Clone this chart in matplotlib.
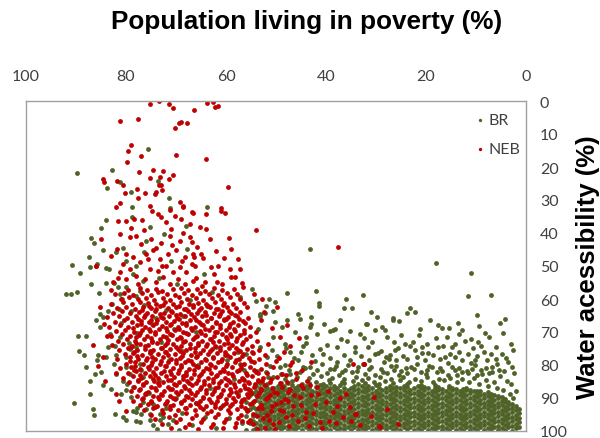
import matplotlib
matplotlib.use("Agg")
import matplotlib.pyplot as plt

# Each point: (population living in poverty %, water accessibility %)

# ---------------- BR (Brazil) ----------------
br_sparse = [
    (89.8, 21.7), (82.8, 20.8), (75.7, 14.6), (81.3, 24.5), (73.7, 24.2), (83.9, 26.5), (79.1, 27.7),
    (71.5, 29.5), (78.9, 32.2), (71.3, 32.4), (63.8, 32.0), (43.3, 44.7), (18.0, 49.2), (11.0, 52.0),
    (32.6, 58.8), (11.6, 59.2), (7.0, 58.8), (23.3, 62.6), (23.8, 64.1), (22.2, 63.8), (26.6, 65.9),
    (36.0, 60.1), (41.4, 61.3), (41.4, 62.0), (42.0, 57.7), (47.9, 58.3), (54.9, 57.1), (36.4, 62.8),
    (34.8, 62.8), (45.6, 64.6), (43.1, 65.5), (57.2, 59.3), (54.0, 60.5), (51.4, 59.9), (50.2, 60.8),
    (52.0, 62.1), (50.6, 63.5), (53.2, 64.5), (52.3, 64.1), (43.0, 67.5), (31.9, 67.6), (26.7, 66.3),
    (25.5, 66.7), (17.7, 68.0), (16.9, 68.7), (15.4, 68.8), (12.8, 69.5), (7.4, 71.5), (4.6, 70.4),
    (38.6, 69.3), (38.2, 69.0),
]

br_left = [
    (84.0, 36.0), (85.1, 38.4), (87.0, 41.4), (86.5, 43.1), (84.7, 45.0), (87.5, 47.4), (90.9, 49.8),
    (89.3, 52.0), (87.3, 50.4), (85.8, 49.5), (84.0, 50.7), (83.5, 50.9), (87.1, 55.4), (84.0, 55.1),
    (85.5, 58.3), (92.0, 58.5), (91.0, 58.5), (89.8, 58.0), (82.0, 45.8), (80.7, 44.6), (80.0, 48.4),
    (82.5, 55.2), (81.7, 56.4), (81.2, 58.5), (82.9, 61.5), (81.5, 63.0), (85.3, 64.5), (83.7, 63.5),
    (78.7, 52.4), (78.8, 35.2), (75.3, 38.3), (76.0, 42.3), (78.0, 49.9), (76.7, 54.4), (80.0, 56.5),
    (77.3, 57.5), (89.7, 71.3), (88.1, 71.3), (89.5, 75.9), (88.4, 76.9), (88.1, 80.7), (87.3, 84.7),
    (87.3, 88.7), (90.5, 91.6), (86.6, 93.2), (86.5, 95.1), (86.2, 82.7), (85.0, 82.0), (85.7, 77.1),
    (85.9, 78.6), (86.0, 66.5), (85.2, 68.5), (84.7, 65.5), (83.7, 74.6), (82.3, 74.1), (82.0, 77.1),
    (84.0, 77.6), (82.5, 79.7), (80.0, 77.6), (79.3, 75.1), (83.3, 70.6), (81.3, 71.6), (84.7, 86.2),
    (83.0, 87.2), (82.3, 94.8), (80.7, 95.8), (78.7, 93.8), (77.8, 93.1), (77.0, 94.8), (80.0, 87.7),
    (80.7, 84.7), (81.0, 88.7), (79.3, 82.7), (78.7, 86.7), (76.7, 83.7), (76.0, 88.7), (74.7, 91.8),
    (73.3, 94.8), (72.7, 95.8), (75.2, 96.8), (71.7, 97.8), (77.3, 79.7), (78.0, 74.6), (80.0, 80.7),
    (82.0, 82.7), (79.0, 89.8), (76.7, 91.3), (78.0, 94.3), (75.3, 94.8), (73.3, 96.8), (77.3, 97.3),
    (80.0, 96.8),
]

br_core_mix = [
    (76.4, 61.9), (72.1, 63.3), (68.7, 65.0), (74.9, 67.7), (63.8, 62.1), (70.5, 69.0), (77.8, 70.3),
    (66.1, 70.1), (73.0, 72.9), (60.4, 66.2), (79.4, 73.3), (68.9, 75.7), (75.0, 76.0), (62.1, 74.5),
    (71.4, 78.6), (77.0, 81.6), (65.6, 80.0), (57.6, 76.2), (73.4, 84.4), (68.2, 83.0), (79.9, 85.8),
    (63.2, 86.9), (75.5, 88.6), (70.0, 89.9), (58.4, 84.1), (66.0, 91.4), (72.1, 92.9), (61.0, 92.6),
    (76.0, 93.2), (68.8, 94.6), (64.3, 95.9), (70.7, 96.7), (59.4, 96.1), (74.6, 98.3), (66.8, 98.1),
    (62.0, 99.1), (56.8, 97.7), (73.8, 99.5), (69.5, 99.6), (78.1, 97.1), (55.7, 93.6), (57.6, 88.7),
    (54.2, 86.2), (56.4, 81.4), (59.8, 78.4), (74.0, 65.9), (81.0, 67.3), (79.0, 63.7), (80.9, 60.0),
    (78.1, 59.0), (67.3, 60.4), (62.9, 57.8), (69.8, 55.6), (73.4, 53.6), (64.5, 52.3), (71.0, 48.6),
    (67.8, 44.9), (76.5, 45.8), (72.5, 40.3), (68.0, 37.9),
]

br_transition = [
    (53.3, 65.0), (50.3, 67.0), (47.9, 66.5), (45.3, 66.0), (43.3, 68.5), (50.6, 71.6), (48.3, 73.6),
    (53.3, 74.6), (56.0, 76.6), (51.9, 77.6), (47.3, 76.1), (45.6, 78.6), (41.9, 70.6), (39.2, 69.6),
    (37.9, 74.6), (35.9, 72.6), (40.6, 76.6), (35.2, 78.6), (43.3, 80.7), (49.3, 80.7), (53.9, 81.7),
    (57.3, 79.7), (50.9, 75.6), (53.6, 69.0), (44.6, 74.1), (39.2, 81.2), (36.9, 82.2), (47.3, 82.7),
    (51.6, 83.7),
]

br_mid = [
    (32.0, 67.5), (30.3, 69.3), (28.3, 69.3), (27.8, 71.6), (24.3, 73.6), (25.6, 74.9), (26.3, 75.6),
    (23.3, 74.1), (22.3, 75.6), (20.9, 74.6), (19.9, 73.6), (17.6, 74.6), (16.6, 74.1), (14.9, 74.6),
    (14.3, 73.6), (12.3, 72.6), (9.6, 73.1), (9.1, 74.1), (7.1, 76.6), (3.6, 79.1), (11.6, 76.6),
    (14.3, 77.6), (16.3, 77.6), (18.6, 77.1), (20.3, 78.6), (21.9, 77.6), (23.9, 78.1), (26.0, 78.6),
    (28.0, 77.6), (30.3, 76.6), (31.6, 74.6), (33.6, 80.7), (31.0, 80.7), (29.0, 81.2), (27.0, 80.2),
    (25.0, 81.7), (23.0, 80.7), (21.0, 82.2), (18.9, 80.7), (16.9, 81.7), (14.9, 80.7), (12.9, 82.2),
    (10.9, 81.2), (8.9, 82.7), (6.9, 80.7), (5.2, 83.2), (3.9, 84.7), (12.9, 78.6), (10.3, 78.6),
    (7.9, 78.6), (5.9, 79.7), (4.9, 76.6),
    (50.6, 83.6), (48.2, 84.1), (45.9, 83.5), (43.4, 84.0), (41.1, 83.4), (38.8, 83.9), (36.4, 84.2),
    (34.0, 83.6), (31.7, 84.0), (29.3, 83.5), (27.0, 84.1), (24.6, 83.7), (22.2, 84.2), (19.9, 83.6),
    (17.5, 84.1), (15.2, 83.8), (12.8, 84.3), (10.5, 83.9), (8.1, 84.4), (6.4, 85.2),
    (52.1, 82.1), (49.0, 82.6), (45.2, 82.0), (42.6, 82.7), (39.9, 82.3), (37.5, 82.9), (34.9, 82.0),
    (32.3, 82.6), (30.2, 83.0), (27.8, 82.4), (25.5, 82.9), (23.9, 82.5), (20.0, 82.8), (17.8, 82.1),
    (15.6, 82.9), (13.8, 83.1), (11.6, 82.4), (9.9, 83.0), (7.4, 82.5),
    (51.2, 80.2), (48.3, 79.9), (44.6, 80.5), (40.9, 79.8), (38.0, 80.4), (35.6, 80.1), (32.6, 79.6),
    (28.4, 79.2), (26.1, 80.4), (21.9, 79.8), (19.5, 80.3), (15.7, 79.5), (13.5, 80.9), (10.3, 80.0),
    (8.0, 81.0), (4.4, 81.8),
    (49.9, 77.3), (46.4, 77.9), (42.8, 77.1), (39.2, 78.0), (36.5, 76.9), (33.0, 77.3), (29.6, 76.4),
    (27.5, 78.3), (19.6, 76.3), (13.5, 76.1), (9.8, 77.4), (6.1, 78.2), (2.9, 80.6),
    (48.0, 74.9), (44.0, 73.2), (41.2, 75.3), (37.0, 72.1), (34.2, 74.4), (30.8, 73.1), (29.1, 75.8),
    (22.6, 72.9), (18.1, 71.9), (11.0, 72.2), (6.0, 74.4), (3.1, 73.6), (15.8, 71.6), (25.0, 70.8),
    (46.2, 70.0), (40.5, 67.5), (35.3, 69.8), (33.2, 70.5), (28.9, 68.4), (21.2, 69.2), (19.2, 66.5),
    (13.6, 67.2), (9.4, 68.1), (5.2, 67.3), (29.8, 65.4),
    (47.5, 81.4), (44.2, 81.0), (41.8, 81.6), (38.5, 81.1), (36.2, 81.4), (33.9, 81.9), (31.5, 81.3),
    (28.7, 82.0), (26.4, 81.5), (24.1, 81.0), (22.4, 81.3), (19.8, 81.6), (17.3, 80.9), (14.2, 81.5),
    (11.9, 81.9), (9.1, 81.5), (6.8, 82.0), (5.5, 81.4),
    (46.9, 84.9), (42.0, 85.2), (39.4, 84.6), (36.9, 85.3), (34.7, 84.8), (32.8, 84.5), (30.5, 85.1),
    (28.2, 84.7), (25.3, 84.4), (23.5, 85.0), (21.0, 84.9), (18.6, 85.0), (16.4, 84.6), (13.9, 85.1),
    (11.4, 85.3), (9.5, 85.7), (7.6, 86.3), (5.8, 86.9), (4.7, 87.7), (3.2, 88.8), (2.6, 90.1),
    (45.0, 76.0), (42.3, 78.8), (37.8, 79.2), (34.3, 76.2), (31.4, 78.4), (27.2, 76.9), (24.7, 77.3),
    (20.9, 76.5), (17.2, 78.3), (15.3, 76.6), (11.0, 79.4), (8.4, 76.1), (4.1, 78.0), (2.4, 82.5),
    (3.0, 85.9), (2.1, 87.8),
    (44.1, 71.5), (39.9, 73.8), (32.4, 71.9), (26.5, 73.0), (21.5, 71.0), (13.4, 70.6), (10.6, 74.9),
    (8.2, 70.2), (2.6, 75.4), (31.0, 63.9), (9.8, 64.9), (4.3, 66.0), (37.2, 66.3), (48.8, 68.6),
]

br_dense = [
    (53.2, 85.5), (51.9, 85.8), (49.1, 85.6), (47.6, 85.4), (44.8, 85.7), (43.5, 85.5),
    (40.7, 85.8), (39.2, 85.6), (36.4, 85.5), (33.6, 85.7), (32.3, 85.4), (29.5, 85.8), (26.7, 85.6),
    (23.9, 85.9), (21.1, 86.0), (18.3, 86.2), (15.5, 86.3),
    (54.0, 86.4), (52.5, 86.2), (49.7, 86.3), (48.4, 86.5), (46.9, 86.2), (45.6, 86.4),
    (44.1, 86.3), (41.3, 86.2), (40.0, 86.4), (38.5, 86.3), (37.2, 86.1), (34.4, 86.4), (32.9, 86.3),
    (31.6, 86.5), (30.1, 86.2), (27.3, 86.4), (26.0, 86.6), (24.5, 86.3), (21.7, 86.5), (20.4, 86.7),
    (17.6, 86.6), (14.8, 86.9), (12.0, 87.1),
    (53.2, 86.9), (51.9, 87.1), (50.4, 87.0), (49.1, 86.9), (47.6, 87.2),
    (46.3, 86.9), (44.8, 87.0), (43.5, 87.1), (42.0, 86.8), (40.7, 87.1), (39.2, 87.0), (37.9, 87.1),
    (36.4, 86.9), (35.1, 87.0), (33.6, 87.2), (32.3, 86.9), (30.8, 87.1), (29.5, 87.0), (28.0, 86.9),
    (26.7, 87.1), (25.2, 87.0), (23.9, 86.8), (22.4, 87.1), (21.1, 87.0), (19.6, 87.1), (18.3, 86.9),
    (16.8, 87.2), (15.5, 87.0), (14.0, 87.2), (12.7, 87.4), (11.2, 87.6), (9.9, 87.8),
    (55.3, 87.7), (54.0, 87.8), (52.5, 87.6), (51.2, 87.8), (49.7, 87.7), (48.4, 87.6), (46.9, 87.9),
    (45.6, 87.6), (44.1, 87.7), (42.8, 87.8), (41.3, 87.5), (40.0, 87.8), (38.5, 87.7), (37.2, 87.8),
    (35.7, 87.6), (34.4, 87.7), (32.9, 87.9), (31.6, 87.6), (30.1, 87.8), (28.8, 87.7), (27.3, 87.6),
    (26.0, 87.8), (24.5, 87.7), (23.2, 87.5), (21.7, 87.8), (20.4, 87.7), (18.9, 87.8), (17.6, 87.6),
    (16.1, 87.9), (14.8, 87.7), (13.3, 87.8), (12.0, 87.7), (10.5, 87.9), (9.2, 88.0), (7.7, 88.3),
    (54.7, 88.5), (53.2, 88.3), (51.9, 88.5), (50.4, 88.4), (49.1, 88.3), (47.6, 88.6),
    (46.3, 88.3), (44.8, 88.4), (43.5, 88.5), (42.0, 88.2), (40.7, 88.5), (39.2, 88.4), (37.9, 88.5),
    (36.4, 88.3), (35.1, 88.4), (33.6, 88.6), (32.3, 88.3), (30.8, 88.5), (29.5, 88.4), (28.0, 88.3),
    (26.7, 88.5), (25.2, 88.4), (23.9, 88.2), (22.4, 88.5), (21.1, 88.4), (19.6, 88.5), (18.3, 88.3),
    (16.8, 88.6), (15.5, 88.4), (14.0, 88.5), (12.7, 88.4), (11.2, 88.6), (9.9, 88.4), (8.4, 88.7),
    (7.1, 88.9), (5.6, 89.3),
    (55.3, 89.1), (54.0, 89.2), (52.5, 89.0), (51.2, 89.2), (49.7, 89.1), (48.4, 89.0), (46.9, 89.3),
    (45.6, 89.0), (44.1, 89.1), (42.8, 89.2), (41.3, 88.9), (40.0, 89.2), (38.5, 89.1), (37.2, 89.2),
    (35.7, 89.0), (34.4, 89.1), (32.9, 89.3), (31.6, 89.0), (30.1, 89.2), (28.8, 89.1), (27.3, 89.0),
    (26.0, 89.2), (24.5, 89.1), (23.2, 88.9), (21.7, 89.2), (20.4, 89.1), (18.9, 89.2), (17.6, 89.0),
    (16.1, 89.3), (14.8, 89.1), (13.3, 89.2), (12.0, 89.1), (10.5, 89.3), (9.2, 89.1), (7.7, 89.4),
    (6.4, 89.2), (4.9, 89.8),
    (53.2, 89.7), (51.9, 89.9), (50.4, 89.8), (49.1, 89.7), (47.6, 90.0),
    (46.3, 89.7), (44.8, 89.8), (43.5, 89.9), (42.0, 89.6), (40.7, 89.9), (39.2, 89.8), (37.9, 89.9),
    (36.4, 89.7), (35.1, 89.8), (33.6, 90.0), (32.3, 89.7), (30.8, 89.9), (29.5, 89.8), (28.0, 89.7),
    (26.7, 89.9), (25.2, 89.8), (23.9, 89.6), (22.4, 89.9), (21.1, 89.8), (19.6, 89.9), (18.3, 89.7),
    (16.8, 90.0), (15.5, 89.8), (14.0, 89.9), (12.7, 89.8), (11.2, 90.0), (9.9, 89.8), (8.4, 90.1),
    (7.1, 89.9), (5.6, 90.1), (4.3, 90.4),
    (54.0, 90.6), (52.5, 90.4), (51.2, 90.6), (49.7, 90.5), (48.4, 90.4), (46.9, 90.7),
    (45.6, 90.4), (44.1, 90.5), (42.8, 90.6), (41.3, 90.3), (40.0, 90.6), (38.5, 90.5), (37.2, 90.6),
    (35.7, 90.4), (34.4, 90.5), (32.9, 90.7), (31.6, 90.4), (30.1, 90.6), (28.8, 90.5), (27.3, 90.4),
    (26.0, 90.6), (24.5, 90.5), (23.2, 90.3), (21.7, 90.6), (20.4, 90.5), (18.9, 90.6), (17.6, 90.4),
    (16.1, 90.7), (14.8, 90.5), (13.3, 90.6), (12.0, 90.5), (10.5, 90.7), (9.2, 90.5), (7.7, 90.8),
    (6.4, 90.6), (4.9, 90.8), (3.6, 91.1),
    (56.0, 91.2), (54.7, 91.3), (53.2, 91.1), (51.9, 91.3), (50.4, 91.2), (49.1, 91.1), (47.6, 91.4),
    (46.3, 91.1), (44.8, 91.2), (43.5, 91.3), (42.0, 91.0), (40.7, 91.3), (39.2, 91.2), (37.9, 91.3),
    (36.4, 91.1), (35.1, 91.2), (33.6, 91.4), (32.3, 91.1), (30.8, 91.3), (29.5, 91.2), (28.0, 91.1),
    (26.7, 91.3), (25.2, 91.2), (23.9, 91.0), (22.4, 91.3), (21.1, 91.2), (19.6, 91.3), (18.3, 91.1),
    (16.8, 91.4), (15.5, 91.2), (14.0, 91.3), (12.7, 91.2), (11.2, 91.4), (9.9, 91.2), (8.4, 91.5),
    (7.1, 91.3), (5.6, 91.5), (4.3, 91.3), (2.8, 91.8),
    (52.5, 91.8), (51.2, 92.0), (49.7, 91.9), (48.4, 91.8), (46.9, 92.1),
    (45.6, 91.8), (44.1, 91.9), (42.8, 92.0), (41.3, 91.7), (40.0, 92.0), (38.5, 91.9), (37.2, 92.0),
    (35.7, 91.8), (34.4, 91.9), (32.9, 92.1), (31.6, 91.8), (30.1, 92.0), (28.8, 91.9), (27.3, 91.8),
    (26.0, 92.0), (24.5, 91.9), (23.2, 91.7), (21.7, 92.0), (20.4, 91.9), (18.9, 92.0), (17.6, 91.8),
    (16.1, 92.1), (14.8, 91.9), (13.3, 92.0), (12.0, 91.9), (10.5, 92.1), (9.2, 91.9), (7.7, 92.2),
    (6.4, 92.0), (4.9, 92.2), (3.6, 92.0), (2.1, 92.5),
    (54.7, 92.7), (53.2, 92.5), (51.9, 92.7), (50.4, 92.6), (49.1, 92.5), (47.6, 92.8),
    (46.3, 92.5), (44.8, 92.6), (43.5, 92.7), (42.0, 92.4), (40.7, 92.7), (39.2, 92.6), (37.9, 92.7),
    (36.4, 92.5), (35.1, 92.6), (33.6, 92.8), (32.3, 92.5), (30.8, 92.7), (29.5, 92.6), (28.0, 92.5),
    (26.7, 92.7), (25.2, 92.6), (23.9, 92.4), (22.4, 92.7), (21.1, 92.6), (19.6, 92.7), (18.3, 92.5),
    (16.8, 92.8), (15.5, 92.6), (14.0, 92.7), (12.7, 92.6), (11.2, 92.8), (9.9, 92.6), (8.4, 92.7),
    (7.1, 92.5), (5.6, 92.8), (4.3, 92.6), (2.8, 92.9), (1.5, 93.4),
    (55.3, 93.3), (54.0, 93.4), (52.5, 93.2), (51.2, 93.4), (49.7, 93.3), (48.4, 93.2), (46.9, 93.5),
    (45.6, 93.2), (44.1, 93.3), (42.8, 93.4), (41.3, 93.1), (40.0, 93.4), (38.5, 93.3), (37.2, 93.4),
    (35.7, 93.2), (34.4, 93.3), (32.9, 93.5), (31.6, 93.2), (30.1, 93.4), (28.8, 93.3), (27.3, 93.2),
    (26.0, 93.4), (24.5, 93.3), (23.2, 93.1), (21.7, 93.4), (20.4, 93.3), (18.9, 93.4), (17.6, 93.2),
    (16.1, 93.5), (14.8, 93.3), (13.3, 93.4), (12.0, 93.3), (10.5, 93.5), (9.2, 93.3), (7.7, 93.4),
    (6.4, 93.2), (4.9, 93.5), (3.6, 93.3), (2.1, 93.6),
    (53.2, 93.9), (51.9, 94.1), (50.4, 94.0), (49.1, 93.9), (47.6, 94.2),
    (46.3, 93.9), (44.8, 94.0), (43.5, 94.1), (42.0, 93.8), (40.7, 94.1), (39.2, 94.0), (37.9, 94.1),
    (36.4, 93.9), (35.1, 94.0), (33.6, 94.2), (32.3, 93.9), (30.8, 94.1), (29.5, 94.0), (28.0, 93.9),
    (26.7, 94.1), (25.2, 94.0), (23.9, 93.8), (22.4, 94.1), (21.1, 94.0), (19.6, 94.1), (18.3, 93.9),
    (16.8, 94.2), (15.5, 94.0), (14.0, 94.1), (12.7, 94.0), (11.2, 94.2), (9.9, 94.0), (8.4, 94.1),
    (7.1, 93.9), (5.6, 94.2), (4.3, 94.0), (2.8, 94.3), (1.5, 94.6),
    (54.0, 94.8), (52.5, 94.6), (51.2, 94.8), (49.7, 94.7), (48.4, 94.6), (46.9, 94.9),
    (45.6, 94.6), (44.1, 94.7), (42.8, 94.8), (41.3, 94.5), (40.0, 94.8), (38.5, 94.7), (37.2, 94.8),
    (35.7, 94.6), (34.4, 94.7), (32.9, 94.9), (31.6, 94.6), (30.1, 94.8), (28.8, 94.7), (27.3, 94.6),
    (26.0, 94.8), (24.5, 94.7), (23.2, 94.5), (21.7, 94.8), (20.4, 94.7), (18.9, 94.8), (17.6, 94.6),
    (16.1, 94.9), (14.8, 94.7), (13.3, 94.8), (12.0, 94.7), (10.5, 94.9), (9.2, 94.7), (7.7, 94.8),
    (6.4, 94.6), (4.9, 94.9), (3.6, 94.7), (2.1, 95.0),
    (56.0, 95.4), (54.7, 95.5), (53.2, 95.3), (51.9, 95.5), (50.4, 95.4), (49.1, 95.3), (47.6, 95.6),
    (46.3, 95.3), (44.8, 95.4), (43.5, 95.5), (42.0, 95.2), (40.7, 95.5), (39.2, 95.4), (37.9, 95.5),
    (36.4, 95.3), (35.1, 95.4), (33.6, 95.6), (32.3, 95.3), (30.8, 95.5), (29.5, 95.4), (28.0, 95.3),
    (26.7, 95.5), (25.2, 95.4), (23.9, 95.2), (22.4, 95.5), (21.1, 95.4), (19.6, 95.5), (18.3, 95.3),
    (16.8, 95.6), (15.5, 95.4), (14.0, 95.5), (12.7, 95.4), (11.2, 95.6), (9.9, 95.4), (8.4, 95.5),
    (7.1, 95.3), (5.6, 95.6), (4.3, 95.4), (2.8, 95.7), (1.5, 96.0),
    (52.5, 96.0), (51.2, 96.2), (49.7, 96.1), (48.4, 96.0), (46.9, 96.3),
    (45.6, 96.0), (44.1, 96.1), (42.8, 96.2), (41.3, 95.9), (40.0, 96.2), (38.5, 96.1), (37.2, 96.2),
    (35.7, 96.0), (34.4, 96.1), (32.9, 96.3), (31.6, 96.0), (30.1, 96.2), (28.8, 96.1), (27.3, 96.0),
    (26.0, 96.2), (24.5, 96.1), (23.2, 95.9), (21.7, 96.2), (20.4, 96.1), (18.9, 96.2), (17.6, 96.0),
    (16.1, 96.3), (14.8, 96.1), (13.3, 96.2), (12.0, 96.1), (10.5, 96.3), (9.2, 96.1), (7.7, 96.2),
    (6.4, 96.0), (4.9, 96.3), (3.6, 96.1), (2.1, 96.4),
    (54.7, 96.9), (53.2, 96.7), (51.9, 96.9), (50.4, 96.8), (49.1, 96.7), (47.6, 97.0),
    (46.3, 96.7), (44.8, 96.8), (43.5, 96.9), (42.0, 96.6), (40.7, 96.9), (39.2, 96.8), (37.9, 96.9),
    (36.4, 96.7), (35.1, 96.8), (33.6, 97.0), (32.3, 96.7), (30.8, 96.9), (29.5, 96.8), (28.0, 96.7),
    (26.7, 96.9), (25.2, 96.8), (23.9, 96.6), (22.4, 96.9), (21.1, 96.8), (19.6, 96.9), (18.3, 96.7),
    (16.8, 97.0), (15.5, 96.8), (14.0, 96.9), (12.7, 96.8), (11.2, 97.0), (9.9, 96.8), (8.4, 96.9),
    (7.1, 96.7), (5.6, 97.0), (4.3, 96.8), (2.8, 97.1), (1.5, 97.4),
    (55.3, 97.5), (54.0, 97.6), (52.5, 97.4), (51.2, 97.6), (49.7, 97.5), (48.4, 97.4), (46.9, 97.7),
    (45.6, 97.4), (44.1, 97.5), (42.8, 97.6), (41.3, 97.3), (40.0, 97.6), (38.5, 97.5), (37.2, 97.6),
    (35.7, 97.4), (34.4, 97.5), (32.9, 97.7), (31.6, 97.4), (30.1, 97.6), (28.8, 97.5), (27.3, 97.4),
    (26.0, 97.6), (24.5, 97.5), (23.2, 97.3), (21.7, 97.6), (20.4, 97.5), (18.9, 97.6), (17.6, 97.4),
    (16.1, 97.7), (14.8, 97.5), (13.3, 97.6), (12.0, 97.5), (10.5, 97.7), (9.2, 97.5), (7.7, 97.6),
    (6.4, 97.4), (4.9, 97.7), (3.6, 97.5), (2.1, 97.8),
    (53.2, 98.1), (51.9, 98.3), (50.4, 98.2), (49.1, 98.1), (47.6, 98.4),
    (46.3, 98.1), (44.8, 98.2), (43.5, 98.3), (42.0, 98.0), (40.7, 98.3), (39.2, 98.2), (37.9, 98.3),
    (36.4, 98.1), (35.1, 98.2), (33.6, 98.4), (32.3, 98.1), (30.8, 98.3), (29.5, 98.2), (28.0, 98.1),
    (26.7, 98.3), (25.2, 98.2), (23.9, 98.0), (22.4, 98.3), (21.1, 98.2), (19.6, 98.3), (18.3, 98.1),
    (16.8, 98.4), (15.5, 98.2), (14.0, 98.3), (12.7, 98.2), (11.2, 98.4), (9.9, 98.2), (8.4, 98.3),
    (7.1, 98.1), (5.6, 98.4), (4.3, 98.2), (2.8, 98.5), (1.5, 98.8),
    (54.0, 99.0), (52.5, 98.8), (51.2, 99.0), (49.7, 98.9), (48.4, 98.8), (46.9, 99.1),
    (45.6, 98.8), (44.1, 98.9), (42.8, 99.0), (41.3, 98.7), (40.0, 99.0), (38.5, 98.9), (37.2, 99.0),
    (35.7, 98.8), (34.4, 98.9), (32.9, 99.1), (31.6, 98.8), (30.1, 99.0), (28.8, 98.9), (27.3, 98.8),
    (26.0, 99.0), (24.5, 98.9), (23.2, 98.7), (21.7, 99.0), (20.4, 98.9), (18.9, 99.0), (17.6, 98.8),
    (16.1, 99.1), (14.8, 98.9), (13.3, 99.0), (12.0, 98.9), (10.5, 99.1), (9.2, 98.9), (7.7, 99.0),
    (6.4, 98.8), (4.9, 99.1), (3.6, 98.9), (2.1, 99.2),
    (56.0, 99.6), (54.7, 99.7), (53.2, 99.5), (51.9, 99.7), (50.4, 99.6), (49.1, 99.5), (47.6, 99.8),
    (46.3, 99.5), (44.8, 99.6), (43.5, 99.7), (42.0, 99.4), (40.7, 99.7), (39.2, 99.6), (37.9, 99.7),
    (36.4, 99.5), (35.1, 99.6), (33.6, 99.8), (32.3, 99.5), (30.8, 99.7), (29.5, 99.6), (28.0, 99.5),
    (26.7, 99.7), (25.2, 99.6), (23.9, 99.4), (22.4, 99.7), (21.1, 99.6), (19.6, 99.7), (18.3, 99.5),
    (16.8, 99.8), (15.5, 99.6), (14.0, 99.7), (12.7, 99.6), (11.2, 99.8), (9.9, 99.6), (8.4, 99.7),
    (7.1, 99.5), (5.6, 99.8), (4.3, 99.6), (2.8, 99.9),
]

# ---------------- NEB (Northeast Brazil) ----------------
neb_top = [
    (75.3, 0.9), (73.5, 0.0), (71.5, 0.9), (70.7, 2.1), (66.5, 2.7), (63.8, 0.6), (62.6, 0.2),
    (62.2, 1.9), (61.7, 1.5), (81.2, 6.2), (77.7, 5.6), (69.5, 6.8), (69.0, 6.5), (67.8, 6.8),
    (70.3, 8.1), (79.1, 13.3), (79.7, 15.3), (77.0, 16.8), (70.0, 16.5), (64.1, 17.7), (79.9, 18.6),
    (77.5, 21.4), (74.7, 20.8), (72.7, 21.1), (70.7, 22.4), (75.3, 23.3), (73.2, 23.0), (71.5, 23.6),
    (84.7, 23.6), (84.5, 24.6), (81.9, 24.1), (80.6, 25.6), (73.5, 25.5), (73.1, 25.6), (72.9, 27.0),
    (74.0, 27.7), (74.3, 28.1), (80.3, 28.0), (77.9, 26.8), (76.3, 28.0), (77.7, 29.5), (69.2, 30.7),
    (82.0, 32.0), (81.3, 30.8), (75.2, 31.9), (68.7, 31.9), (59.7, 26.2), (61.1, 32.5), (37.7, 44.1),
]

neb_upper = [
    (74.8, 33.4), (71.2, 33.0), (68.7, 32.2), (66.9, 33.7), (81.7, 36.5), (80.0, 36.3), (78.5, 35.7),
    (76.5, 39.1), (73.7, 34.2), (73.0, 35.2), (72.0, 36.8), (70.3, 34.7), (69.0, 35.7), (67.3, 37.3),
    (81.3, 40.3), (79.3, 41.3), (78.0, 40.8), (77.0, 43.3), (75.0, 41.8), (73.0, 43.1), (71.3, 40.8),
    (69.3, 42.3), (67.3, 41.3), (85.0, 41.8), (86.0, 49.9), (81.9, 44.8), (80.0, 46.4), (78.7, 47.4),
    (80.7, 49.4), (77.3, 48.9), (76.0, 46.4), (74.7, 45.3), (73.3, 47.9), (71.7, 46.4), (70.0, 45.3),
    (68.3, 47.4), (66.7, 46.4), (75.3, 50.9), (73.7, 51.4), (72.0, 49.9), (70.7, 51.9), (69.3, 50.4),
    (68.0, 51.9), (66.3, 49.9), (78.0, 52.9), (76.3, 53.9), (80.0, 53.9), (81.3, 51.9), (82.7, 54.9),
    (74.0, 54.9), (72.7, 53.4), (71.3, 55.4), (69.7, 53.9), (68.3, 55.4), (66.7, 54.4),
    (66.6, 33.9), (64.1, 34.2), (61.1, 33.2), (60.2, 33.9), (65.2, 38.3), (64.1, 38.9), (54.1, 39.2),
    (59.4, 41.6), (59.0, 44.7), (66.8, 42.6), (65.8, 44.3), (65.0, 46.4), (64.6, 47.7), (66.4, 47.2),
    (60.4, 47.6), (57.7, 47.9), (66.8, 49.4), (63.0, 50.2), (61.7, 50.0), (59.3, 51.0), (57.3, 51.0),
    (59.0, 53.4), (58.3, 53.4), (64.2, 54.7), (61.9, 54.7), (60.8, 55.6), (56.8, 55.2), (56.6, 56.3),
    (66.0, 53.6), (83.0, 47.0), (79.0, 38.5), (76.8, 36.2), (71.0, 38.8), (68.6, 40.0), (74.0, 44.5),
    (70.8, 43.7), (63.2, 41.7), (62.0, 45.6), (68.9, 48.6), (72.9, 50.1), (75.6, 48.0), (79.2, 50.8),
    (77.6, 55.4), (81.6, 53.5), (62.4, 52.3), (64.8, 56.1),
]

neb_left = [
    (86.0, 50.1), (86.7, 73.9), (84.7, 77.6), (82.0, 82.5), (82.0, 88.7), (80.0, 93.8), (84.5, 67.6),
    (85.3, 62.4), (83.9, 71.1), (84.2, 84.9), (81.4, 90.9), (83.1, 57.2), (85.6, 80.3),
]

neb_core = [
    (79.6, 57.3), (77.2, 56.8), (75.9, 57.4), (74.1, 56.9), (72.8, 57.5), (70.6, 57.1), (69.1, 56.6),
    (67.7, 57.4), (65.9, 57.0), (64.2, 57.6), (62.5, 56.8), (60.9, 57.3), (58.4, 57.0),
    (82.3, 58.6), (80.4, 58.1), (78.6, 58.8), (76.8, 58.3), (75.1, 58.7), (73.6, 58.0), (71.9, 58.5),
    (70.2, 58.9), (68.5, 58.2), (66.8, 58.7), (65.2, 58.1), (63.4, 58.6), (61.6, 58.9), (59.8, 58.2),
    (57.9, 58.6),
    (81.1, 59.9), (79.4, 59.5), (77.7, 60.1), (76.0, 59.6), (74.5, 60.2), (72.7, 59.7), (71.2, 60.3),
    (69.5, 59.5), (67.9, 60.0), (66.1, 59.6), (64.6, 60.2), (62.8, 59.7), (61.1, 60.1), (59.2, 59.5),
    (57.3, 60.0),
    (83.0, 61.4), (80.6, 61.0), (78.9, 61.5), (77.3, 60.9), (75.6, 61.3), (74.0, 61.6), (72.3, 60.9),
    (70.7, 61.4), (69.0, 61.0), (67.4, 61.6), (65.7, 61.1), (64.0, 61.5), (62.3, 60.9), (60.5, 61.3),
    (58.6, 61.6), (56.4, 61.1),
    (81.8, 62.8), (80.0, 62.3), (78.3, 62.9), (76.6, 62.4), (75.0, 62.8), (73.3, 62.2), (71.7, 62.7),
    (70.0, 62.4), (68.4, 62.9), (66.7, 62.3), (65.0, 62.8), (63.3, 62.4), (61.6, 62.9), (59.9, 62.3),
    (58.0, 62.8), (55.9, 62.5),
    (82.6, 64.2), (80.9, 63.7), (79.2, 64.3), (77.5, 63.8), (75.8, 64.2), (74.2, 63.6), (72.5, 64.1),
    (70.9, 63.8), (69.2, 64.4), (67.6, 63.7), (65.9, 64.2), (64.2, 63.8), (62.5, 64.3), (60.8, 63.7),
    (59.0, 64.1), (57.2, 63.8),
    (83.8, 65.5), (81.5, 65.1), (79.8, 65.7), (78.1, 65.2), (76.4, 65.6), (74.8, 65.0), (73.1, 65.5),
    (71.5, 65.2), (69.8, 65.8), (68.2, 65.1), (66.5, 65.6), (64.8, 65.2), (63.1, 65.7), (61.4, 65.1),
    (59.7, 65.6), (57.8, 65.2), (55.6, 65.7),
    (82.2, 66.9), (80.5, 66.5), (78.8, 67.1), (77.1, 66.6), (75.4, 67.0), (73.8, 66.4), (72.1, 66.9),
    (70.5, 66.6), (68.8, 67.2), (67.2, 66.5), (65.5, 67.0), (63.8, 66.6), (62.1, 67.1), (60.4, 66.5),
    (58.6, 67.0), (56.7, 66.6),
    (83.4, 68.4), (81.3, 67.9), (79.6, 68.5), (77.9, 68.0), (76.2, 68.4), (74.6, 67.8), (72.9, 68.3),
    (71.3, 68.0), (69.6, 68.6), (68.0, 67.9), (66.3, 68.4), (64.6, 68.0), (62.9, 68.5), (61.2, 67.9),
    (59.5, 68.4), (57.6, 68.0), (55.2, 68.5),
    (82.0, 69.8), (80.2, 69.3), (78.5, 69.9), (76.8, 69.4), (75.2, 69.8), (73.5, 69.2), (71.9, 69.7),
    (70.2, 69.4), (68.6, 70.0), (66.9, 69.3), (65.2, 69.8), (63.5, 69.4), (61.8, 69.9), (60.1, 69.3),
    (58.3, 69.8), (56.4, 69.4), (54.1, 69.9),
    (83.1, 71.2), (80.9, 70.7), (79.2, 71.3), (77.5, 70.8), (75.9, 71.2), (74.2, 70.6), (72.6, 71.1),
    (70.9, 70.8), (69.3, 71.4), (67.6, 70.7), (65.9, 71.2), (64.2, 70.8), (62.5, 71.3), (60.8, 70.7),
    (59.1, 71.2), (57.2, 70.8), (55.3, 71.3),
    (81.7, 72.6), (79.9, 72.1), (78.2, 72.7), (76.5, 72.2), (74.9, 72.6), (73.2, 72.0), (71.6, 72.5),
    (69.9, 72.2), (68.3, 72.8), (66.6, 72.1), (64.9, 72.6), (63.2, 72.2), (61.5, 72.7), (59.8, 72.1),
    (58.0, 72.6), (56.1, 72.2), (53.8, 72.7),
    (82.8, 74.0), (80.6, 73.5), (78.9, 74.1), (77.2, 73.6), (75.6, 74.0), (73.9, 73.4), (72.3, 73.9),
    (70.6, 73.6), (69.0, 74.2), (67.3, 73.5), (65.6, 74.0), (63.9, 73.6), (62.2, 74.1), (60.5, 73.5),
    (58.8, 74.0), (56.9, 73.6), (54.8, 74.1),
    (81.4, 75.4), (79.6, 74.9), (77.9, 75.5), (76.2, 75.0), (74.6, 75.4), (72.9, 74.8), (71.3, 75.3),
    (69.6, 75.0), (68.0, 75.6), (66.3, 74.9), (64.6, 75.4), (62.9, 75.0), (61.2, 75.5), (59.5, 74.9),
    (57.7, 75.4), (55.8, 75.0), (53.5, 75.5),
    (80.3, 76.8), (78.6, 76.3), (76.9, 76.9), (75.3, 76.4), (73.6, 76.8), (72.0, 76.2), (70.3, 76.7),
    (68.7, 76.4), (67.0, 77.0), (65.3, 76.3), (63.6, 76.8), (61.9, 76.4), (60.2, 76.9), (58.5, 76.3),
    (56.6, 76.8), (54.6, 76.4), (52.3, 76.9),
    (81.9, 78.2), (79.3, 77.7), (77.6, 78.3), (75.9, 77.8), (74.3, 78.2), (72.6, 77.6), (71.0, 78.1),
    (69.3, 77.8), (67.7, 78.4), (66.0, 77.7), (64.3, 78.2), (62.6, 77.8), (60.9, 78.3), (59.2, 77.7),
    (57.4, 78.2), (55.5, 77.8), (53.4, 78.3),
    (80.0, 79.6), (78.3, 79.1), (76.6, 79.7), (74.9, 79.2), (73.3, 79.6), (71.6, 79.0), (70.0, 79.5),
    (68.3, 79.2), (66.7, 79.8), (65.0, 79.1), (63.3, 79.6), (61.6, 79.2), (59.9, 79.7), (58.2, 79.1),
    (56.4, 79.6), (54.4, 79.2), (52.0, 79.7),
    (81.2, 81.0), (79.0, 80.5), (77.3, 81.1), (75.6, 80.6), (74.0, 81.0), (72.3, 80.4), (70.7, 80.9),
    (69.0, 80.6), (67.4, 81.2), (65.7, 80.5), (64.0, 81.0), (62.3, 80.6), (60.6, 81.1), (58.9, 80.5),
    (57.1, 81.0), (55.2, 80.6), (53.1, 81.1), (50.6, 80.7),
    (79.7, 82.4), (78.0, 81.9), (76.3, 82.5), (74.6, 82.0), (73.0, 82.4), (71.3, 81.8), (69.7, 82.3),
    (68.0, 82.0), (66.4, 82.6), (64.7, 81.9), (63.0, 82.4), (61.3, 82.0), (59.6, 82.5), (57.9, 81.9),
    (56.1, 82.4), (54.1, 82.0), (51.9, 82.5),
    (80.7, 83.8), (78.7, 83.3), (77.0, 83.9), (75.3, 83.4), (73.7, 83.8), (72.0, 83.2), (70.4, 83.7),
    (68.7, 83.4), (67.1, 84.0), (65.4, 83.3), (63.7, 83.8), (62.0, 83.4), (60.3, 83.9), (58.6, 83.3),
    (56.8, 83.8), (54.9, 83.4), (52.7, 83.9), (49.8, 83.5),
    (79.4, 85.2), (77.7, 84.7), (76.0, 85.3), (74.4, 84.8), (72.7, 85.2), (71.1, 84.6), (69.4, 85.1),
    (67.8, 84.8), (66.1, 85.4), (64.4, 84.7), (62.7, 85.2), (61.0, 84.8), (59.3, 85.3), (57.5, 84.7),
    (55.7, 85.2), (53.6, 84.8), (51.3, 85.3),
    (78.4, 86.6), (76.7, 86.1), (75.0, 86.7), (73.4, 86.2), (71.7, 86.6), (70.1, 86.0), (68.4, 86.5),
    (66.8, 86.2), (65.1, 86.8), (63.4, 86.1), (61.7, 86.6), (60.0, 86.2), (58.3, 86.7), (56.5, 86.1),
    (54.5, 86.6), (52.2, 86.2), (48.9, 86.7),
    (79.1, 88.0), (77.4, 87.5), (75.7, 88.1), (74.1, 87.6), (72.4, 88.0), (70.8, 87.4), (69.1, 87.9),
    (67.5, 87.6), (65.8, 88.2), (64.1, 87.5), (62.4, 88.0), (60.7, 87.6), (59.0, 88.1), (57.2, 87.5),
    (55.3, 88.0), (53.1, 87.6), (50.4, 88.1),
    (77.9, 89.4), (76.2, 88.9), (74.6, 89.5), (72.9, 89.0), (71.3, 89.4), (69.6, 88.8), (68.0, 89.3),
    (66.3, 89.0), (64.6, 89.6), (62.9, 88.9), (61.2, 89.4), (59.5, 89.0), (57.7, 89.5), (55.9, 88.9),
    (53.8, 89.4), (51.2, 89.0),
    (78.6, 90.8), (76.8, 90.3), (75.1, 90.9), (73.5, 90.4), (71.8, 90.8), (70.2, 90.2), (68.5, 90.7),
    (66.9, 90.4), (65.2, 91.0), (63.5, 90.3), (61.8, 90.8), (60.1, 90.4), (58.3, 90.9), (56.5, 90.3),
    (54.5, 90.8), (52.0, 90.4), (47.6, 90.9),
    (77.3, 92.2), (75.6, 91.7), (73.9, 92.3), (72.3, 91.8), (70.6, 92.2), (69.0, 91.6), (67.3, 92.1),
    (65.7, 91.8), (64.0, 92.4), (62.3, 91.7), (60.6, 92.2), (58.9, 91.8), (57.1, 92.3), (55.2, 91.7),
    (53.0, 92.2), (50.1, 91.8),
    (76.5, 93.6), (74.6, 93.1), (72.9, 93.7), (71.3, 93.2), (69.6, 93.6), (68.0, 93.0), (66.3, 93.5),
    (64.7, 93.2), (63.0, 93.8), (61.3, 93.1), (59.6, 93.6), (57.8, 93.2), (55.9, 93.7), (53.6, 93.1),
    (49.2, 93.6),
    (75.0, 95.0), (72.6, 94.5), (70.3, 95.1), (68.1, 94.6), (66.0, 95.0), (63.8, 94.4), (61.6, 94.9),
    (59.3, 94.6), (57.0, 95.2), (54.6, 94.7), (51.8, 95.1),
    (74.2, 96.4), (71.5, 95.9), (69.2, 96.5), (66.9, 96.0), (64.6, 96.4), (62.3, 95.8), (60.1, 96.3),
    (57.7, 96.0), (55.3, 96.6), (52.6, 96.1),
    (72.8, 97.8), (70.0, 97.3), (67.5, 97.9), (65.1, 97.4), (62.7, 97.8), (60.5, 97.2), (58.0, 97.7),
    (55.6, 97.4), (50.7, 97.9),
    (71.0, 99.2), (68.2, 98.7), (65.7, 99.3), (63.1, 98.8), (60.7, 99.2), (58.2, 98.7), (53.9, 99.3),
]

neb_core_fill = [
    (76.9, 63.3), (74.1, 63.0), (71.0, 63.5), (68.0, 63.1), (65.4, 63.4), (62.0, 63.0), (59.4, 63.6),
    (77.7, 66.0), (75.0, 66.3), (72.6, 65.9), (69.4, 66.2), (66.0, 66.4), (63.0, 65.9), (60.0, 66.2),
    (57.4, 66.0), (78.7, 68.9), (75.5, 69.1), (72.0, 68.7), (69.4, 69.2), (67.1, 68.8), (64.2, 69.0),
    (61.2, 68.7), (58.5, 69.1), (78.0, 71.6), (75.0, 71.9), (72.1, 71.5), (69.0, 71.8), (66.2, 71.6),
    (63.0, 72.0), (60.0, 71.5), (57.9, 71.8), (79.0, 74.6), (76.3, 74.3), (73.0, 74.8), (70.0, 74.4),
    (67.2, 74.7), (64.1, 74.3), (61.3, 74.6), (58.0, 74.8), (77.8, 77.2), (74.8, 77.5), (71.7, 77.1),
    (68.9, 77.4), (65.8, 77.2), (62.7, 77.6), (59.9, 77.1), (56.9, 77.4), (78.2, 80.2), (75.0, 79.9),
    (72.0, 80.3), (69.1, 79.9), (66.1, 80.2), (63.1, 80.0), (60.1, 80.3), (57.1, 79.9), (77.2, 82.9),
    (74.2, 83.1), (71.0, 82.7), (68.0, 83.0), (65.0, 82.8), (61.9, 83.1), (58.9, 82.7), (55.9, 83.0),
    (76.6, 85.8), (73.6, 85.5), (70.5, 85.9), (67.5, 85.6), (64.5, 85.9), (61.5, 85.5), (58.5, 85.8),
    (55.5, 85.5), (76.0, 88.4), (73.0, 88.7), (70.0, 88.3), (67.0, 88.6), (64.0, 88.4), (61.0, 88.7),
    (58.0, 88.3), (55.0, 88.6), (75.0, 91.3), (72.0, 91.5), (69.0, 91.1), (66.0, 91.4), (63.0, 91.2),
    (60.0, 91.5), (57.0, 91.1),
    (75.5, 62.0), (72.6, 61.8), (69.5, 62.1), (66.6, 61.9), (63.6, 62.2), (60.7, 61.8),
    (76.2, 64.8), (73.3, 64.5), (70.1, 64.9), (67.1, 64.6), (64.0, 64.8), (61.2, 64.5), (58.3, 64.8),
    (77.0, 67.6), (74.1, 67.3), (71.1, 67.7), (68.0, 67.4), (65.0, 67.6), (62.0, 67.3), (59.2, 67.7),
    (56.2, 67.4), (77.3, 70.4), (74.3, 70.1), (71.2, 70.5), (68.1, 70.2), (65.1, 70.4), (62.2, 70.1),
    (59.3, 70.5), (56.5, 70.2), (78.1, 73.2), (74.9, 72.9), (71.8, 73.3), (68.7, 73.0), (65.7, 73.2),
    (62.6, 72.9), (59.6, 73.3), (56.6, 73.0), (78.4, 76.0), (75.3, 75.7), (72.3, 76.1), (69.2, 75.8),
    (66.2, 76.0), (63.2, 75.7), (60.2, 76.1), (57.2, 75.8), (54.8, 76.0), (79.2, 78.8), (76.1, 78.5),
    (73.0, 78.9), (70.0, 78.6), (67.0, 78.8), (64.0, 78.5), (61.0, 78.9), (58.0, 78.6), (55.0, 78.8),
    (78.4, 81.6), (75.4, 81.3), (72.4, 81.7), (69.4, 81.4), (66.4, 81.6), (63.4, 81.3), (60.4, 81.7),
    (57.4, 81.4), (54.4, 81.6), (77.7, 84.4), (74.7, 84.1), (71.7, 84.5), (68.7, 84.2), (65.7, 84.4),
    (62.7, 84.1), (59.7, 84.5), (56.7, 84.2), (53.7, 84.4), (77.2, 87.2), (74.2, 86.9), (71.2, 87.3),
    (68.2, 87.0), (65.2, 87.2), (62.2, 86.9), (59.2, 87.3), (56.2, 87.0), (53.0, 87.2), (76.6, 90.0),
    (73.6, 89.7), (70.6, 90.1), (67.6, 89.8), (64.6, 90.0), (61.6, 89.7), (58.6, 90.1), (55.6, 89.8),
    (74.3, 92.8), (71.3, 92.5), (68.3, 92.9), (65.3, 92.6), (62.3, 92.8), (59.3, 92.5), (56.3, 92.9),
]

neb_tail = [
    (49.5, 77.8), (47.2, 80.1), (48.8, 82.6), (46.1, 84.2), (44.7, 86.9), (47.6, 88.3), (45.3, 89.7),
    (46.6, 92.5), (44.0, 94.1), (48.0, 95.8), (45.7, 97.0), (43.4, 98.4), (46.8, 79.2), (44.9, 81.5),
    (43.0, 79.1), (34.6, 79.6), (32.5, 79.6), (45.0, 86.2), (43.3, 86.2), (43.0, 89.2), (41.6, 88.7),
    (42.3, 91.8), (40.0, 91.3), (35.3, 92.8), (34.3, 94.8), (38.6, 94.3), (41.3, 97.3), (29.3, 98.8),
    (33.3, 98.3), (36.6, 95.8), (32.4, 79.7), (34.0, 94.8), (29.5, 98.6), (39.4, 96.9), (37.2, 90.1),
    (50.3, 99.4), (47.9, 85.1), (49.0, 91.2), (51.1, 93.9),
    (52.5, 64.0), (50.8, 68.8), (49.2, 71.4), (51.6, 73.7), (48.5, 76.2), (53.1, 66.3), (50.0, 78.8),
    (47.2, 74.1), (46.0, 82.3), (52.9, 60.1), (49.8, 62.5), (45.5, 71.9), (47.8, 68.0), (54.5, 58.4),
    (56.4, 84.6), (54.2, 85.9), (52.8, 84.9), (50.9, 86.9), (49.2, 85.4), (47.3, 87.2), (55.6, 87.4),
    (53.5, 88.6), (51.6, 89.7), (49.9, 88.4), (48.2, 90.3), (46.4, 89.1), (56.8, 90.5), (54.9, 91.5),
    (52.9, 92.9), (50.8, 92.5), (48.7, 94.0), (46.9, 95.3), (55.8, 93.8), (53.9, 95.5), (51.5, 96.6),
    (49.4, 97.3), (47.4, 98.6), (56.9, 96.9), (54.6, 98.0), (52.3, 99.0), (45.1, 92.1), (44.3, 96.0),
    (42.6, 94.5), (40.9, 99.1), (38.1, 97.6), (43.8, 84.7), (41.9, 86.6), (39.6, 88.0), (37.9, 92.3),
    (36.1, 88.7), (35.0, 96.9), (31.0, 95.6), (27.8, 93.4), (30.4, 89.7), (25.6, 97.8), (53.7, 82.3),
    (51.0, 84.2), (48.0, 82.9),
]

series_labels = ["BR", "NEB"]
series_colors = ["#4F6228", "#C00000"]
x_ticks = [100, 80, 60, 40, 20, 0]
y_ticks = [0, 10, 20, 30, 40, 50, 60, 70, 80, 90, 100]

br_points = br_sparse + br_left + br_core_mix + br_transition + br_mid + br_dense
neb_points = neb_top + neb_upper + neb_left + neb_core + neb_core_fill + neb_tail

tick_font = "Lato"
title_font = "Liberation Sans"

fig = plt.figure(figsize=(6.0, 4.39), dpi=100)
ax = fig.add_axes([26 / 600, 7 / 439, 500 / 600, 330 / 439])

handles = []
for pts, lab, col in zip([br_points, neb_points], series_labels, series_colors):
    xs = [p[0] for p in pts]
    ys = [p[1] for p in pts]
    h = ax.scatter(xs, ys, s=12, c=col, linewidths=0, label=lab)
    handles.append(h)

ax.set_xlim(100, 0)
ax.set_ylim(100, 0)
ax.xaxis.tick_top()
ax.yaxis.tick_right()
ax.set_xticks(x_ticks)
ax.set_yticks(y_ticks)
ax.set_xticklabels([str(v) for v in x_ticks], fontfamily=tick_font, fontsize=11.5, color="#404040")
ax.set_yticklabels([str(v) for v in y_ticks], fontfamily=tick_font, fontsize=11.5, color="#404040")
ax.tick_params(axis="x", length=0, pad=13)
ax.tick_params(axis="y", length=0, pad=10)
for sp in ax.spines.values():
    sp.set_color("#A0A0A0")
    sp.set_linewidth(1.0)

leg = ax.legend(handles=handles, labels=series_labels, loc="upper left",
                bbox_to_anchor=((467 - 26) / 500, (432 - 106) / 330),
                frameon=False, handlelength=0.6, handletextpad=0.25, borderpad=0,
                labelspacing=0.9, markerscale=0.7,
                prop={"family": tick_font, "size": 11.5})
for t in leg.get_texts():
    t.set_color("#404040")

fig.text(307 / 600, 1 - 22 / 439, "Population living in poverty (%)", ha="center", va="center",
         fontfamily=title_font, fontweight="bold", fontsize=18.8, color="black")
fig.text(588 / 600, 1 - 267 / 439, "Water acessibility (%)", ha="center", va="center", rotation=90,
         fontfamily=title_font, fontweight="bold", fontsize=18.5, color="black")

fig.savefig("out.png", dpi=100)
